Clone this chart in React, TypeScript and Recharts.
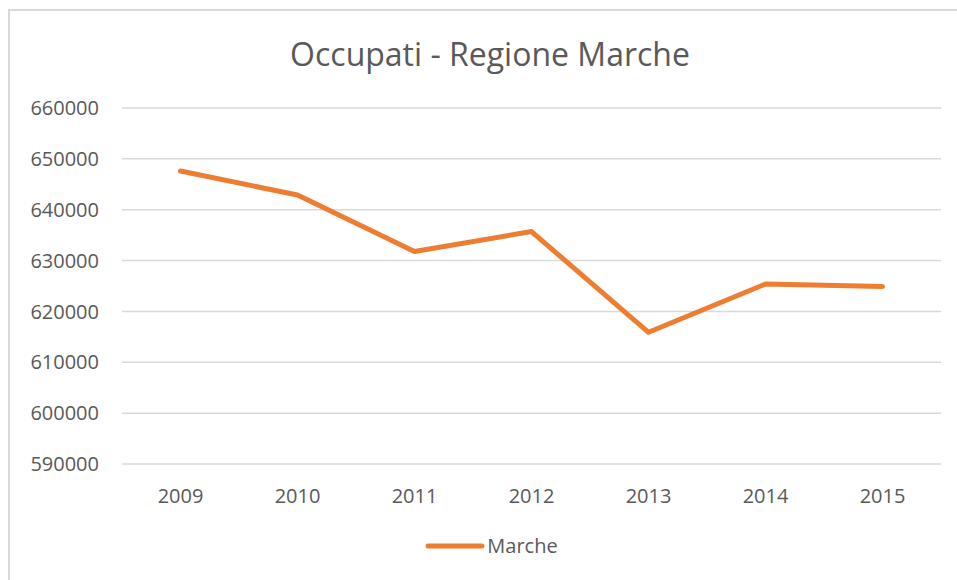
import { LineChart, Line, XAxis, YAxis, CartesianGrid, Legend } from "recharts"

const years = ["2009", "2010", "2011", "2012", "2013", "2014", "2015"]
const marche = [647600, 642900, 631800, 635700, 615900, 625400, 624900]
const yTicks = [590000, 600000, 610000, 620000, 630000, 640000, 650000, 660000]

const data = years.map((year, i) => ({ year, Marche: marche[i] }))

const FONT = "'Open Sans', sans-serif"
const TEXT = "#595959"
const ORANGE = "#ED7D31"
const FRAME = "#d9d9d9"

function LegendContent({ payload }: any) {
  return (
    <div style={{ display: "flex", justifyContent: "center", alignItems: "center", paddingLeft: 26 }}>
      {(payload || []).map((p: any) => (
        <div key={p.value} style={{ display: "flex", alignItems: "center" }}>
          <svg width={60} height={10}>
            <line x1={3} y1={5} x2={57} y2={5} stroke={ORANGE} strokeWidth={5} strokeLinecap="round" />
          </svg>
          <span style={{ fontFamily: FONT, fontSize: 20, color: TEXT, marginLeft: 2 }}>{p.value}</span>
        </div>
      ))}
    </div>
  )
}

export default function App() {
  return (
    <div style={{ position: "fixed", left: 0, top: 0, width: 957, height: 580, overflow: "hidden", background: "#fff" }}>
      {/* chart frame: only top and left edges are visible in the crop */}
      <div style={{ position: "absolute", left: 8, top: 9, width: 949, height: 2, background: FRAME }} />
      <div style={{ position: "absolute", left: 8, top: 9, width: 2, height: 571, background: FRAME }} />
      <div
        style={{
          position: "absolute",
          left: 0,
          top: 38,
          width: 980,
          textAlign: "center",
          fontFamily: FONT,
          fontSize: 32,
          lineHeight: "32px",
          color: TEXT,
        }}
      >
        Occupati - Regione Marche
      </div>
      <div style={{ position: "absolute", left: 0, top: 0 }}>
        <LineChart
          width={957}
          height={580}
          data={data}
          margin={{ top: 108, right: 16, left: 22, bottom: 59 }}
        >
          <CartesianGrid vertical={false} stroke={FRAME} strokeWidth={1.5} />
          <XAxis
            dataKey="year"
            axisLine={false}
            tickLine={false}
            tickSize={0}
            tickMargin={25}
            padding={{ left: 58.5, right: 58.5 }}
            tick={{ fill: TEXT, fontSize: 20, fontFamily: FONT }}
          />
          <YAxis
            width={100}
            domain={[590000, 660000]}
            ticks={yTicks}
            interval={0}
            axisLine={false}
            tickLine={false}
            tickSize={0}
            tickMargin={23}
            tick={{ fill: TEXT, fontSize: 20, fontFamily: FONT }}
          />
          <Legend
            content={<LegendContent />}
            wrapperStyle={{ position: "absolute", top: 532, left: 0, width: 957 }}
          />
          <Line
            type="linear"
            dataKey="Marche"
            stroke={ORANGE}
            strokeWidth={5}
            strokeLinecap="round"
            strokeLinejoin="round"
            dot={false}
            activeDot={false}
            isAnimationActive={false}
          />
        </LineChart>
      </div>
    </div>
  )
}
